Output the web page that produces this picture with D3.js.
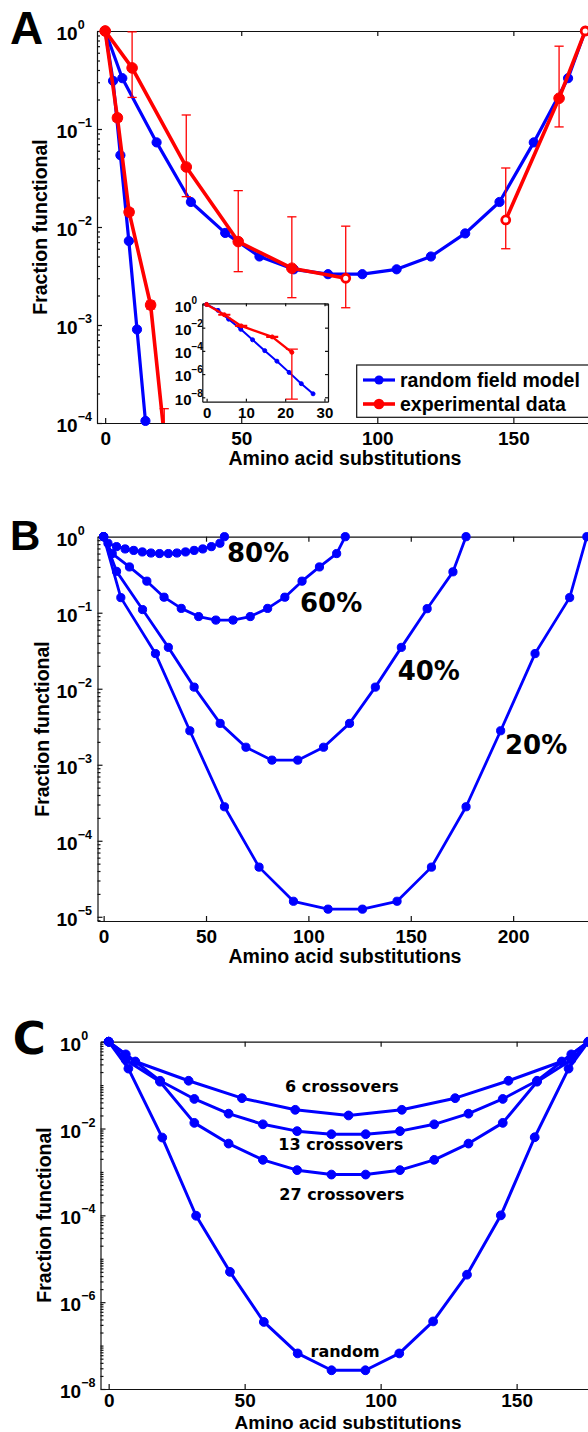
<!DOCTYPE html>
<html>
<head>
<meta charset="utf-8">
<script src="https://cdn.jsdelivr.net/npm/d3@7"></script>
<style>
  body { margin: 0; background: #fff; }
  svg { display: block; }
</style>
</head>
<body>
<svg id="chart" width="588" height="1432"></svg>
<script>
// ---------------- data ----------------
// Panel A - random field model, U shaped curve
var aModelX = [0, 6.3, 18.9, 31.5, 44.1, 56.7, 69.3, 81.9, 94.5, 107.1, 119.7, 132.3, 144.9, 157.5, 170.1, 176.4];
var aModelY = [1, 0.33, 0.073, 0.018, 0.0087, 0.0050, 0.0037, 0.0033, 0.0033, 0.0037, 0.0050, 0.0086, 0.018, 0.073, 0.33, 1];
// Panel A - random field model, steep branch (continued in the inset)
var aSteepX = [0, 2.9, 5.6, 8.7, 11.7, 14.8, 17.9, 21.0, 24.1, 27.1];
var aSteepY = [1, 0.31, 0.054, 0.0072, 0.0009, 0.000105, 1.3e-5, 1.4e-6, 1.5e-7, 2e-8];
// Panel A - experimental data (two pieces of the U curve)
var aExpX1 = [0, 9.9, 29.8, 48.9, 68.6, 88.4];
var aExpY1 = [1, 0.42, 0.041, 0.0071, 0.0038, 0.0030];
var aExpLo1 = [1, 0.21, 0.0204, 0.0035, 0.0019, 0.0015];
var aExpHi1 = [1, 0.98, 0.139, 0.0235, 0.0127, 0.0102];
var aExpX2 = [147.2, 166.8, 176.4];
var aExpY2 = [0.0118, 0.206, 1];
var aExpLo2 = [0.006, 0.105, 1];
var aExpHi2 = [0.040, 0.70, 1];
// Panel A - experimental data, steep branch
var aExpSteepX = [0, 4.5, 8.8, 16.7, 21.7];
var aExpSteepY = [1, 0.13, 0.0142, 0.0016, 7.5e-5];
var aExpSteepLo = [1, 0.12, 0.0132, 0.00146, 7e-9];
var aExpSteepHi = [1, 0.14, 0.0153, 0.00175, 1.4e-4];
var aLegend = ["random field model", "experimental data"];

// Panel B - curves by identity
var b80X = [0, 2.1, 6.3, 10.5, 14.7, 18.9, 23.1, 27.3, 31.6, 35.8, 40.0, 44.2, 48.4, 52.6, 56.8, 59];
var b80Y = [1, 0.82, 0.74, 0.69, 0.66, 0.63, 0.61, 0.60, 0.60, 0.61, 0.63, 0.66, 0.69, 0.74, 0.82, 1];
var b60X = [0, 4.2, 12.6, 21.1, 29.5, 37.9, 46.4, 54.8, 63.2, 71.6, 80.1, 88.5, 96.9, 105.4, 113.8, 118];
var b60Y = [1, 0.60, 0.40, 0.26, 0.16, 0.114, 0.089, 0.080, 0.080, 0.089, 0.114, 0.16, 0.26, 0.40, 0.60, 1];
var b40X = [0, 6.3, 19.0, 31.6, 44.2, 56.9, 69.5, 82.2, 94.8, 107.4, 120.1, 132.7, 145.4, 158.0, 170.6, 177];
var b40Y = [1, 0.35, 0.11, 0.035, 0.0105, 0.0035, 0.0017, 0.00115, 0.00115, 0.0017, 0.0035, 0.0105, 0.035, 0.113, 0.345, 1];
var b20X = [0, 8.4, 25.3, 42.1, 59.0, 75.9, 92.7, 109.6, 126.4, 143.3, 160.1, 177.0, 193.9, 210.7, 227.6, 236];
var b20Y = [1, 0.158, 0.029, 0.0028, 0.00028, 4.5e-5, 1.6e-5, 1.26e-5, 1.26e-5, 1.6e-5, 4.5e-5, 0.00028, 0.0028, 0.029, 0.158, 1];
var bLabels = ["80%", "60%", "40%", "20%"];

// Panel C - crossovers
var c6X = [0, 9.8, 29.4, 49.0, 68.6, 88.2, 107.8, 127.4, 147.0, 166.6, 176.4];
var c6Y = [1, 0.35, 0.126, 0.050, 0.027, 0.020, 0.027, 0.050, 0.126, 0.35, 1];
var c13X = [0, 6.3, 18.9, 31.5, 44.1, 56.7, 69.3, 81.9, 94.5, 107.1, 119.7, 132.3, 144.9, 157.5, 170.1, 176.4];
var c13Y = [1, 0.51, 0.126, 0.048, 0.022, 0.0125, 0.0087, 0.0074, 0.0074, 0.0087, 0.0125, 0.022, 0.048, 0.126, 0.51, 1];
var c27X = [0, 6.3, 18.9, 31.5, 44.1, 56.7, 69.3, 81.9, 94.5, 107.1, 119.7, 132.3, 144.9, 157.5, 170.1, 176.4];
var c27Y = [1, 0.38, 0.12, 0.0135, 0.0045, 0.0019, 0.0011, 0.00087, 0.00087, 0.0011, 0.0019, 0.0045, 0.0135, 0.12, 0.38, 1];
var cRandX = [0, 7.25, 19.7, 32.15, 44.6, 57.05, 69.5, 81.95, 94.4, 106.85, 119.3, 131.75, 144.2, 156.65, 169.1, 176.4];
var cRandY = [1, 0.24, 0.0062, 9.8e-5, 5e-6, 3.5e-7, 6.6e-8, 2.7e-8, 2.7e-8, 6.6e-8, 3.6e-7, 4.3e-6, 1e-4, 0.0063, 0.24, 1];
var cLabels = ["6 crossovers", "13 crossovers", "27 crossovers", "random"];

var xTitle = "Amino acid substitutions";
var yTitle = "Fraction functional";

// ---------------- drawing ----------------
var HELV = "'Liberation Sans', Arial, Helvetica, sans-serif";
var DEJA = "'DejaVu Sans', Verdana, sans-serif";
var BLUE = "#0000ff", RED = "#ff0000";

var svg = d3.select("#chart");
var defs = svg.append("defs");

function minorValues(lo, hi, skip) {
  var v = [];
  for (var p = Math.floor(Math.log10(lo)); p <= Math.ceil(Math.log10(hi)); p++) {
    for (var m = 1; m < 10; m++) {
      var val = m * Math.pow(10, p);
      if (m === 1 && !skip) continue;
      if (m === 1 && skip.indexOf(p) < 0) continue;
      if (val >= lo * 0.999 && val <= hi * 1.001) v.push(val);
    }
  }
  return v;
}

function makePanel(id, xDom, xRange, yDom, yRange) {
  defs.append("clipPath").attr("id", id).append("rect")
    .attr("x", xRange[0]).attr("y", yRange[1])
    .attr("width", xRange[1] - xRange[0]).attr("height", yRange[0] - yRange[1]);
  var g = svg.append("g");
  return {
    x: d3.scaleLinear().domain(xDom).range(xRange),
    y: d3.scaleLog().domain(yDom).range(yRange),
    g: g,
    clip: "url(#" + id + ")"
  };
}

function drawFrame(p, o) {
  var x = p.x, y = p.y, g = p.g.append("g");
  var xr = x.range(), yr = y.range();

  g.append("g").attr("class", "xb").attr("transform", "translate(0," + yr[0] + ")")
    .call(d3.axisBottom(x).tickValues(o.xTicks).tickSize(-o.tick).tickSizeOuter(0)
      .tickPadding(o.xPad).tickFormat(d3.format("d")));
  g.append("g").attr("transform", "translate(0," + yr[1] + ")")
    .call(d3.axisTop(x).tickValues(o.xTicks).tickSize(-o.tick).tickSizeOuter(0).tickFormat(""));

  var ly = g.append("g").attr("transform", "translate(" + xr[0] + ",0)")
    .call(d3.axisLeft(y).tickValues(o.yTicks).tickSize(-o.tick).tickSizeOuter(0));
  g.append("g").attr("transform", "translate(" + xr[1] + ",0)")
    .call(d3.axisRight(y).tickValues(o.yTicks).tickSize(-o.tick).tickSizeOuter(0).tickFormat(""));

  if (o.minor) {
    var mv = minorValues(y.domain()[0], y.domain()[1], o.minorDecades);
    g.append("g").attr("transform", "translate(" + xr[0] + ",0)")
      .call(d3.axisLeft(y).tickValues(mv).tickSize(-o.minor).tickSizeOuter(0).tickFormat(""))
      .select(".domain").remove();
    g.append("g").attr("transform", "translate(" + xr[1] + ",0)")
      .call(d3.axisRight(y).tickValues(mv).tickSize(-o.minor).tickSizeOuter(0).tickFormat(""))
      .select(".domain").remove();
  }

  g.selectAll("path.domain, .tick line").attr("stroke", "#111").attr("stroke-width", o.sw);
  g.selectAll("text").attr("font-family", HELV).attr("font-weight", "bold")
    .attr("font-size", o.fs).attr("fill", "#000");

  // 10^n labels: "10" at a fixed place, exponent as superscript
  ly.selectAll(".tick text")
    .attr("text-anchor", "start").attr("x", -o.yLabelDx).attr("dy", "0.45em")
    .each(function(d) {
      var e = Math.round(Math.log10(d));
      var t = d3.select(this).text(null);
      t.append("tspan").text("10");
      t.append("tspan").attr("dy", -o.rise).attr("font-size", o.sup)
        .text(e < 0 ? "\u2212" + (-e) : String(e));
    });
}

function drawTitles(p, o) {
  p.g.append("text").attr("x", o.xtx).attr("y", o.xty)
    .attr("text-anchor", "middle").attr("font-family", HELV).attr("font-weight", "bold")
    .attr("font-size", o.size || 19.5).text(xTitle);
  p.g.append("text").attr("transform", "translate(" + o.ytx + "," + o.yty + ") rotate(-90)")
    .attr("text-anchor", "middle").attr("font-family", HELV).attr("font-weight", "bold")
    .attr("font-size", 19.5).text(yTitle);
}

function drawSeries(p, xs, ys, st) {
  var pts = d3.zip(xs, ys).map(function(d, i, a) {
    return { x: d[0], y: d[1], hollow: st.hollowEnds && (i === 0 || i === a.length - 1) };
  });
  var line = d3.line().x(function(d) { return p.x(d.x); }).y(function(d) { return p.y(d.y); });
  p.g.append("path").datum(pts).attr("d", line).attr("clip-path", p.clip)
    .attr("fill", "none").attr("stroke", st.color).attr("stroke-width", st.lw)
    .attr("stroke-linejoin", "round");
  var yd = p.y.domain(), xd = p.x.domain();
  var vis = pts.filter(function(d) {
    return d.y >= yd[0] * 0.95 && d.y <= yd[1] * 1.05 && d.x >= xd[0] && d.x <= xd[1];
  });
  p.g.append("g").selectAll("circle").data(vis).enter().append("circle")
    .attr("cx", function(d) { return p.x(d.x); })
    .attr("cy", function(d) { return p.y(d.y); })
    .attr("r", function(d) { return d.hollow ? st.r - 1.3 : st.r; })
    .attr("fill", function(d) { return d.hollow ? "#fff" : st.color; })
    .attr("stroke", st.color)
    .attr("stroke-width", function(d) { return d.hollow ? 2.8 : 1; });
}

function drawErrors(p, xs, lo, hi, st) {
  var rows = d3.zip(xs, lo, hi).filter(function(d) { return d[1] !== d[2]; });
  var eg = p.g.append("g").attr("clip-path", p.clip)
    .attr("stroke", st.color).attr("stroke-width", st.ew).attr("fill", "none");
  var bars = eg.selectAll("g").data(rows).enter().append("g");
  bars.append("line")
    .attr("x1", function(d) { return p.x(d[0]); }).attr("x2", function(d) { return p.x(d[0]); })
    .attr("y1", function(d) { return p.y(d[1]); }).attr("y2", function(d) { return p.y(d[2]); });
  [1, 2].forEach(function(k) {
    bars.append("line")
      .attr("x1", function(d) { return p.x(d[0]) - st.cap; })
      .attr("x2", function(d) { return p.x(d[0]) + st.cap; })
      .attr("y1", function(d) { return p.y(d[k]); })
      .attr("y2", function(d) { return p.y(d[k]); });
  });
}

function panelLetter(txt, x, y, size, family) {
  svg.append("text").attr("x", x).attr("y", y).attr("font-family", family)
    .attr("font-weight", "bold").attr("font-size", size).text(txt);
}

// ---------- Panel A ----------
var pA = makePanel("clipA", [-3, 180], [97, 595], [1e-4, 1], [423, 31]);
drawFrame(pA, { xTicks: [0, 50, 100, 150], yTicks: [1, 1e-1, 1e-2, 1e-3, 1e-4],
  tick: 5, minor: 3, sw: 1.2, fs: 19, sup: 12.5, rise: 11, xPad: 8.5, yLabelDx: 40.5 });
drawTitles(pA, { xtx: 345, xty: 465, ytx: 46.5, yty: 227 });
var blueA = { color: BLUE, lw: 3.2, r: 4.6 };
var redA = { color: RED, lw: 3.6, r: 5.3, ew: 1.3, cap: 4.6 };
drawSeries(pA, aModelX, aModelY, blueA);
drawSeries(pA, aSteepX, aSteepY, blueA);
drawErrors(pA, aExpX1, aExpLo1, aExpHi1, redA);
drawErrors(pA, aExpX2, aExpLo2, aExpHi2, redA);
drawErrors(pA, aExpSteepX, aExpSteepLo, aExpSteepHi, redA);
drawSeries(pA, aExpX1, aExpY1, Object.assign({ hollowEnds: true }, redA));
drawSeries(pA, aExpX2, aExpY2, Object.assign({ hollowEnds: true }, redA));
drawSeries(pA, aExpSteepX, aExpSteepY, redA);

// inset of panel A
var pIn = makePanel("clipIn", [-1.1, 30.9], [202.3, 328], [Math.pow(10, -8.38), Math.pow(10, 0.1)], [401.7, 303.3]);
pIn.g.append("rect").attr("x", 202.3).attr("y", 303.3).attr("width", 328 - 202.3)
  .attr("height", 401.7 - 303.3).attr("fill", "#fff");
drawFrame(pIn, { xTicks: [0, 10, 20, 30], yTicks: [1, 1e-2, 1e-4, 1e-6, 1e-8],
  tick: 3, minor: 0, sw: 1.2, fs: 15, sup: 10, rise: 8, xPad: 5.6, yLabelDx: 27.5 });
drawSeries(pIn, aSteepX, aSteepY, { color: BLUE, lw: 2, r: 2 });
drawErrors(pIn, aExpSteepX, aExpSteepLo, aExpSteepHi, { color: RED, ew: 1.3, cap: 6 });
drawSeries(pIn, aExpSteepX, aExpSteepY, { color: RED, lw: 2.4, r: 2 });

// legend
var leg = pA.g.append("g");
leg.append("rect").attr("x", 356.7).attr("y", 365).attr("width", 250).attr("height", 52.3)
  .attr("fill", "#fff").attr("stroke", "#111").attr("stroke-width", 1.2);
[[BLUE, 380], [RED, 404]].forEach(function(s, i) {
  leg.append("line").attr("x1", 363).attr("x2", 395).attr("y1", s[1]).attr("y2", s[1])
    .attr("stroke", s[0]).attr("stroke-width", i ? 3.6 : 3.2);
  leg.append("circle").attr("cx", 379).attr("cy", s[1]).attr("r", i ? 5.3 : 4.6).attr("fill", s[0]);
  leg.append("text").attr("x", 400).attr("y", s[1] + 7).attr("font-family", HELV)
    .attr("font-weight", "bold").attr("font-size", 19.5).text(aLegend[i]);
});
panelLetter("A", 10, 43.5, 46, HELV);

// ---------- Panel B ----------
var pB = makePanel("clipB", [-3, 239], [97.5, 593], [8.8e-6, 1], [921, 536.7]);
drawFrame(pB, { xTicks: [0, 50, 100, 150, 200], yTicks: [1, 1e-1, 1e-2, 1e-3, 1e-4, 1e-5],
  tick: 5, minor: 3, sw: 1.2, fs: 19, sup: 12.5, rise: 11, xPad: 8.5, yLabelDx: 41 });
drawTitles(pB, { xtx: 345, xty: 963, ytx: 48.5, yty: 729 });
var blueB = { color: BLUE, lw: 2.8, r: 4.1 };
drawSeries(pB, b20X, b20Y, blueB);
drawSeries(pB, b40X, b40Y, blueB);
drawSeries(pB, b60X, b60Y, blueB);
drawSeries(pB, b80X, b80Y, blueB);
var bLabelPos = [[227, 562], [300, 612], [397.7, 680], [505, 754]];
pB.g.selectAll("text.lab").data(bLabels).enter().append("text").attr("class", "lab")
  .attr("x", function(d, i) { return bLabelPos[i][0]; })
  .attr("y", function(d, i) { return bLabelPos[i][1]; })
  .attr("font-family", DEJA).attr("font-weight", "bold").attr("font-size", 26)
  .text(function(d) { return d; });
panelLetter("B", 10, 550, 42, HELV);

// ---------- Panel C ----------
var pC = makePanel("clipC", [-3, 179], [100.5, 595.5], [1e-8, 1], [1389, 1041.7]);
drawFrame(pC, { xTicks: [0, 50, 100, 150], yTicks: [1, 1e-2, 1e-4, 1e-6, 1e-8],
  tick: 5, minor: 3, minorDecades: [-7, -5, -3, -1], sw: 1.2, fs: 19, sup: 12.5, rise: 11,
  xPad: 5, yLabelDx: 40.5 });
drawTitles(pC, { xtx: 348, xty: 1428.5, ytx: 50.5, yty: 1215, size: 19 });
var blueC = { color: BLUE, lw: 3, r: 4.4 };
drawSeries(pC, cRandX, cRandY, blueC);
drawSeries(pC, c27X, c27Y, blueC);
drawSeries(pC, c13X, c13Y, blueC);
drawSeries(pC, c6X, c6Y, blueC);
var cLabelPos = [[285, 1091.7], [278.3, 1150], [279.3, 1200], [310.5, 1356.5]];
pC.g.selectAll("text.lab").data(cLabels).enter().append("text").attr("class", "lab")
  .attr("x", function(d, i) { return cLabelPos[i][0]; })
  .attr("y", function(d, i) { return cLabelPos[i][1]; })
  .attr("font-family", DEJA).attr("font-weight", "bold").attr("font-size", 16)
  .text(function(d) { return d; });
panelLetter("C", 12.7, 1054, 45, DEJA);
</script>
</body>
</html>
